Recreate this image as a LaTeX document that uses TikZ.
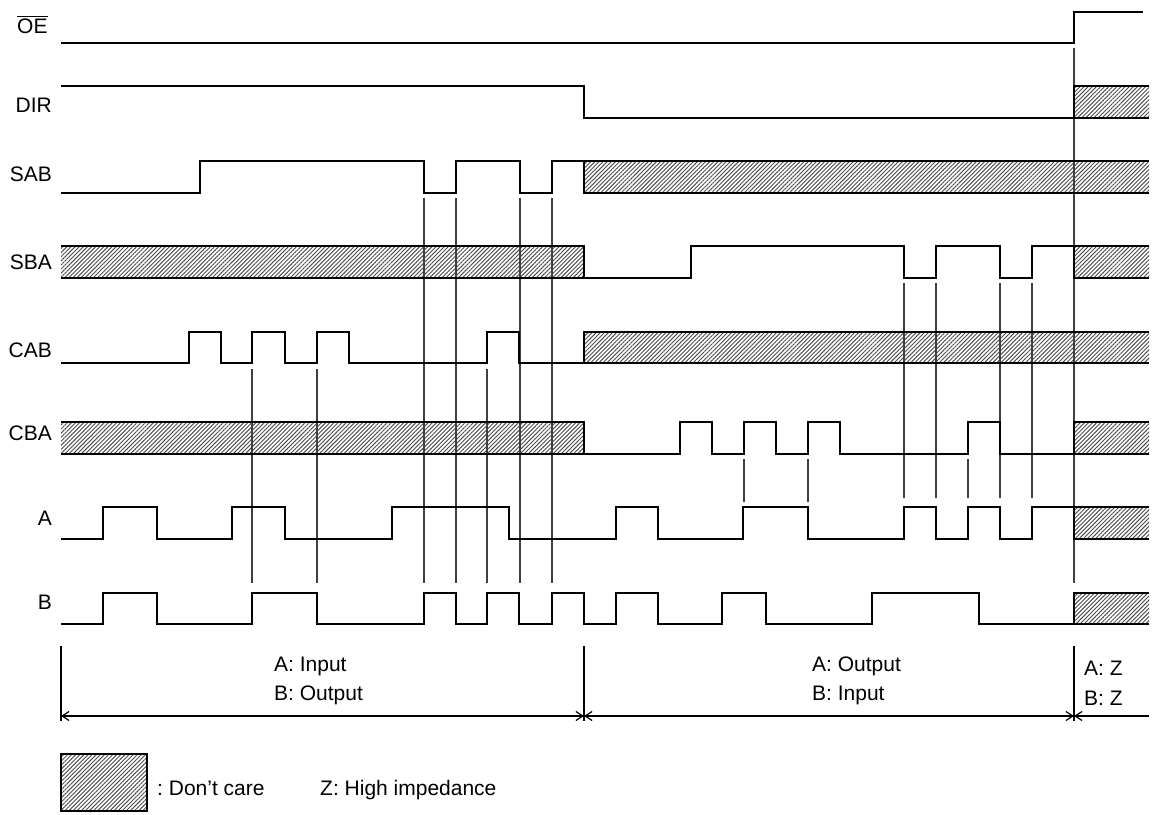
\documentclass[tikz,border=0pt]{standalone}
\usepackage{fontspec}
\setmainfont{Liberation Sans}
\usetikzlibrary{patterns.meta,arrows.meta}
\tikzset{
  wave/.style={line width=2.9pt, line join=miter},
  guide/.style={line width=1.2pt, black!75},
  hatchfill/.style={pattern={Lines[angle=45,distance=2.9pt,line width=0.95pt]}, pattern color=black!70},
  sig/.style={anchor=base east, inner sep=0pt, font=\fontsize{21}{25}\selectfont},
  txt/.style={anchor=base west, inner sep=0pt, font=\fontsize{21}{25}\selectfont},
  dim/.style={line width=1.2pt},
  dimarrow/.style={dim, {Straight Barb[length=7pt,width=9pt]}-{Straight Barb[length=7pt,width=9pt]}},
}
\begin{document}
\begin{tikzpicture}[x=1pt,y=-1pt]
\useasboundingbox (0,0) rectangle (1153,814);

% labels
\node[txt] (loe) at (17,33) {OE};
\draw[line width=1.1pt] ([yshift=2pt]loe.north west) -- ([yshift=2pt]loe.north east);
\node[sig] (ldir) at (52,112) {DIR};
\node[sig] (lsab) at (52,181) {SAB};
\node[sig] (lsba) at (52,269) {SBA};
\node[sig] (lcab) at (52,357) {CAB};
\node[sig] (lcba) at (52,440) {CBA};
\node[sig] (la) at (52,525) {A};
\node[sig] (lb) at (52,609) {B};

% hatched (don't care) fills
\fill[hatchfill] (1074,86) rectangle (1149,118);
\fill[hatchfill] (584,161) rectangle (1149,193);
\fill[hatchfill] (61,246) rectangle (584,278);
\fill[hatchfill] (1074,246) rectangle (1149,278);
\fill[hatchfill] (584,332) rectangle (1149,363);
\fill[hatchfill] (61,422) rectangle (584,454);
\fill[hatchfill] (1074,422) rectangle (1149,454);
\fill[hatchfill] (1074,507) rectangle (1149,539);
\fill[hatchfill] (1074,593) rectangle (1149,624);

% guide lines
\draw[guide] (1074,48) -- (1074,583);
\foreach \x in {424,456,520,552} \draw[guide] (\x,198) -- (\x,583);
\foreach \x in {252,317,487} \draw[guide] (\x,369) -- (\x,583);
\foreach \x in {744,808} \draw[guide] (\x,459) -- (\x,502);
\foreach \x in {904,936,1000,1032} \draw[guide] (\x,283) -- (\x,498);
\draw[guide] (968,459) -- (968,498);

% OE
\draw[wave] (61,43) -- (1074,43) -- (1074,12) -- (1143,12);
% DIR
\draw[wave] (61,86) -- (584,86) -- (584,118) -- (1149,118);
\draw[wave] (1149,86) -- (1074,86) -- (1074,118);
% SAB
\draw[wave] (61,193) -- (200,193) -- (200,161) -- (424,161) -- (424,193) -- (456,193) -- (456,161)
  -- (520,161) -- (520,193) -- (552,193) -- (552,161) -- (1149,161);
\draw[wave] (584,161) -- (584,193) -- (1149,193);
% SBA
\draw[wave] (61,246) -- (584,246) -- (584,278);
\draw[wave] (61,278) -- (691,278) -- (691,246) -- (904,246) -- (904,278) -- (936,278) -- (936,246)
  -- (1000,246) -- (1000,278) -- (1032,278) -- (1032,246) -- (1149,246);
\draw[wave] (1074,246) -- (1074,278) -- (1149,278);
% CAB
\draw[wave] (61,363) -- (189,363) -- (189,332) -- (221,332) -- (221,363) -- (252,363) -- (252,332)
  -- (285,332) -- (285,363) -- (317,363) -- (317,332) -- (349,332) -- (349,363) -- (487,363)
  -- (487,332) -- (519,332) -- (519,363) -- (1149,363);
\draw[wave] (584,363) -- (584,332) -- (1149,332);
% CBA
\draw[wave] (61,422) -- (584,422) -- (584,454);
\draw[wave] (61,454) -- (680,454) -- (680,422) -- (712,422) -- (712,454) -- (744,454) -- (744,422)
  -- (776,422) -- (776,454) -- (808,454) -- (808,422) -- (840,422) -- (840,454) -- (968,454)
  -- (968,422) -- (1000,422) -- (1000,454) -- (1149,454);
\draw[wave] (1074,454) -- (1074,422) -- (1149,422);
% A
\draw[wave] (61,539) -- (103,539) -- (103,507) -- (157,507) -- (157,539) -- (232,539) -- (232,507)
  -- (285,507) -- (285,539) -- (392,539) -- (392,507) -- (509,507) -- (509,539) -- (616,539)
  -- (616,507) -- (658,507) -- (658,539) -- (743,539) -- (743,507) -- (808,507) -- (808,539)
  -- (904,539) -- (904,507) -- (936,507) -- (936,539) -- (968,539) -- (968,507) -- (1000,507)
  -- (1000,539) -- (1032,539) -- (1032,507) -- (1149,507);
\draw[wave] (1074,507) -- (1074,539) -- (1149,539);
% B
\draw[wave] (61,624) -- (103,624) -- (103,593) -- (157,593) -- (157,624) -- (252,624) -- (252,593)
  -- (317,593) -- (317,624) -- (424,624) -- (424,593) -- (456,593) -- (456,624) -- (487,624)
  -- (487,593) -- (519,593) -- (519,624) -- (552,624) -- (552,593) -- (584,593) -- (584,624)
  -- (616,624) -- (616,593) -- (658,593) -- (658,624) -- (722,624) -- (722,593) -- (766,593)
  -- (766,624) -- (872,624) -- (872,593) -- (979,593) -- (979,624) -- (1149,624);
\draw[wave] (1074,624) -- (1074,593) -- (1149,593);

% dimension lines
\coordinate (t1) at (61,716);
\coordinate (t2) at (584,716);
\coordinate (t3) at (1074,716);
\coordinate (t4) at (1149,716);
\draw[dim] (61,646) -- (61,721);
\draw[dim] (584,646) -- (584,721);
\draw[dim] (1074,646) -- (1074,721);
\draw[dimarrow] (t1) -- (t2);
\draw[dimarrow] (t2) -- (t3);
\draw[dim, {Straight Barb[length=7pt,width=9pt]}-] (t3) -- (t4);

\node[txt] (ain) at (274,671) {A: Input};
\node[txt] (bout) at (274,700) {B: Output};
\node[txt] (aout) at (812,671) {A: Output};
\node[txt] (bin) at (812,700) {B: Input};
\node[txt] (az) at (1084,675) {A: Z};
\node[txt] (bz) at (1084,705) {B: Z};

% legend
\draw[wave, hatchfill] (61,754) rectangle (147,811);
\node[txt] (dc) at (157,795) {:~Don’t care};
\node[txt] (hz) at (320,795) {Z: High impedance};
\end{tikzpicture}
\end{document}
